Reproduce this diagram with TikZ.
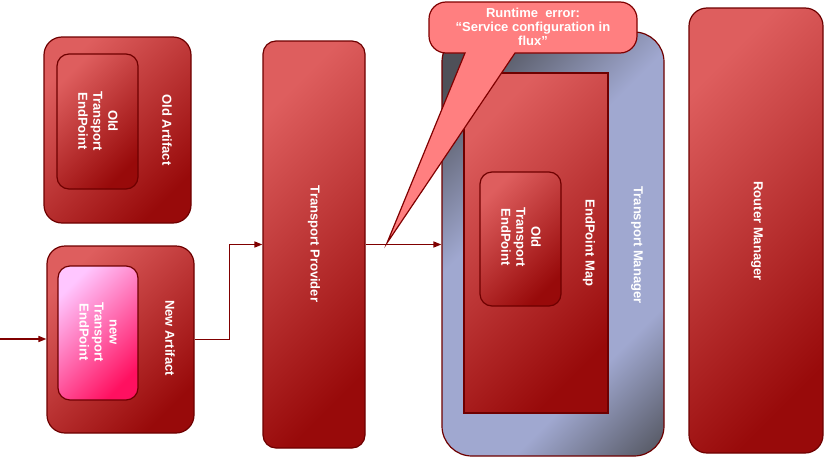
\documentclass[tikz,border=0pt]{standalone}
\usepackage{fontspec}
\setmainfont{Liberation Sans}
\usetikzlibrary{arrows.meta}
\definecolor{boxlight}{HTML}{DE5E5E}
\definecolor{boxdark}{HTML}{980A0A}
\definecolor{boxline}{HTML}{6E0000}
\definecolor{pinklight}{HTML}{FFC6FF}
\definecolor{pinkdark}{HTML}{FF1060}
\definecolor{tmlight}{HTML}{A0A8D0}
\definecolor{tmdark}{HTML}{4E5058}
\definecolor{callfill}{HTML}{FF7F80}
\definecolor{connc}{HTML}{800000}
\pgfdeclarehorizontalshading{tmshade}{100bp}{color(0bp)=(tmdark); color(21bp)=(tmdark); color(41bp)=(tmlight); color(69bp)=(tmlight); color(86bp)=(tmdark); color(100bp)=(tmdark)}
\begin{document}
\begin{tikzpicture}[x=1pt,y=-1pt,
  box/.style={draw=boxline, line width=1.2pt, top color=boxlight, bottom color=boxdark, shading angle=45, inner sep=0pt},
  pinkbox/.style={draw=boxline, line width=1.2pt, top color=pinklight, bottom color=pinkdark, shading angle=45, inner sep=0pt},
  tmbox/.style={draw=boxline, line width=1.2pt, shading=tmshade, shading angle=-45, inner sep=0pt},
  lbl/.style={text=white, font=\fontsize{13}{15}\selectfont\bfseries, align=center, rotate=-90, inner sep=0pt},
  calltext/.style={text=white, font=\fontsize{13}{14}\selectfont\bfseries, align=center, inner sep=0pt},
  callshape/.style={draw=connc, line width=1.2pt, fill=callfill},
  conn/.style={draw=connc, line width=1.5pt, -{Triangle[length=8pt,width=6pt]}}
]
\useasboundingbox (0,0) rectangle (824,458);
% Old Artifact
\node[box, rounded corners=18pt, minimum width=147pt, minimum height=186pt] (oa) at (117.5,130) {};
\node[box, rounded corners=12pt, minimum width=81pt, minimum height=135pt] (oaep) at (97.5,121.5) {};
\node[lbl] (oalbl) at (167,130) {Old Artifact};
\node[lbl] (oaeplbl) at (98,121) {Old\\Transport\\EndPoint};
% New Artifact
\node[box, rounded corners=18pt, minimum width=147pt, minimum height=187pt] (na) at (120.5,339.5) {};
\node[pinkbox, rounded corners=12pt, minimum width=80pt, minimum height=134pt] (naep) at (98,333) {};
\node[lbl] (nalbl) at (170,338) {New Artifact};
\node[lbl] (naeplbl) at (98,332) {new\\Transport\\EndPoint};
% Transport Provider
\node[box, rounded corners=13pt, minimum width=102pt, minimum height=407pt] (tp) at (314,244.5) {};
\node[lbl] (tplbl) at (314,244) {Transport Provider};
% Transport Manager
\node[tmbox, rounded corners=30pt, minimum width=222pt, minimum height=424pt] (tm) at (553,244) {};
\node[box, minimum width=144pt, minimum height=340pt] (epm) at (536,243) {};
\node[box, rounded corners=12pt, minimum width=81pt, minimum height=134pt] (epmep) at (520.5,239) {};
\node[lbl] (epmlbl) at (589,243) {EndPoint Map};
\node[lbl] (epmeplbl) at (521,237) {Old\\Transport\\EndPoint};
\node[lbl] (tmlbl) at (637,245) {Transport Manager};
% Router Manager
\node[box, rounded corners=18pt, minimum width=134pt, minimum height=445pt] (rm) at (756,230.5) {};
\node[lbl] (rmlbl) at (757,231) {Router Manager};
% connectors
\coordinate (src) at (0,339);
\draw[conn] (src) -- (src -| na.west);
\draw[conn] (na.east) -- ++(35,0) |- (tp.west);
\draw[conn] (tp.east) -- (tp.east -| tm.west);
% callout
\coordinate (tip) at (387,243);
\path[callshape] (tip) -- (465,53) -- (446,53) arc[start angle=90, end angle=180, radius=17]
  -- (429,19) arc[start angle=180, end angle=270, radius=17]
  -- (620,2) arc[start angle=270, end angle=360, radius=17]
  -- (637,36) arc[start angle=0, end angle=90, radius=17]
  -- (515,53) -- cycle;
\node[calltext] (calltxt) at (533,27) {Runtime\ \ error:\\``Service configuration in\\flux''};
\end{tikzpicture}
\end{document}
